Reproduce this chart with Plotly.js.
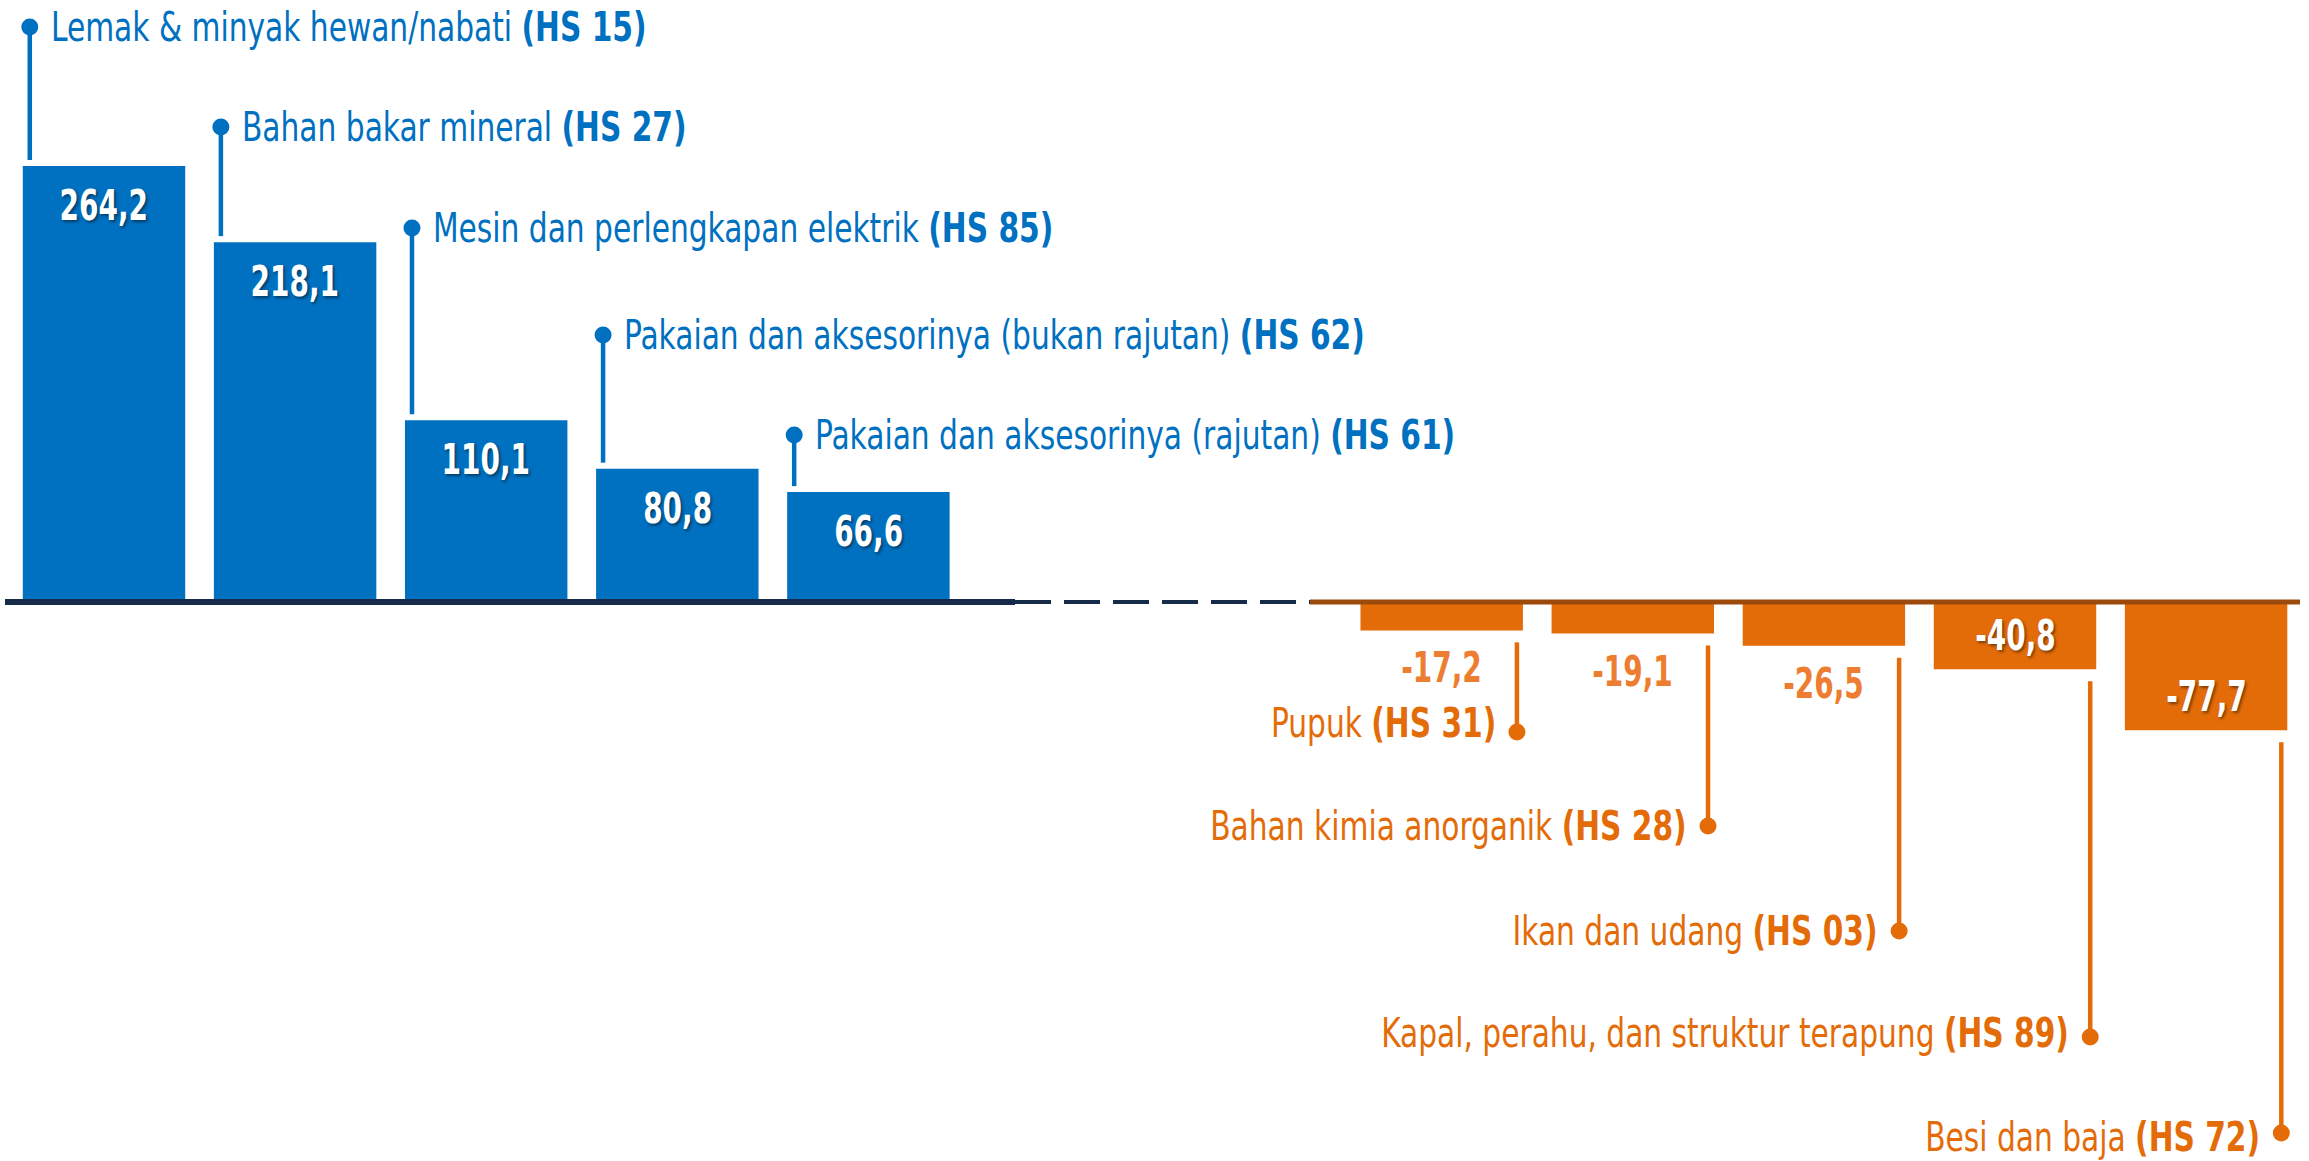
<!DOCTYPE html>
<html>
<head>
<meta charset="utf-8">
<script src="https://cdn.plot.ly/plotly-3.0.1.min.js"></script>
<style>
  html, body { margin: 0; padding: 0; background: #fff; }
  #chart { width: 2309px; height: 1161px; }
</style>
</head>
<body>
<div id="chart"></div>
<script>
// data
const blueNames = ['Lemak & minyak hewan/nabati', 'Bahan bakar mineral', 'Mesin dan perlengkapan elektrik',
  'Pakaian dan aksesorinya (bukan rajutan)', 'Pakaian dan aksesorinya (rajutan)']
const blueCodes = ['HS 15', 'HS 27', 'HS 85', 'HS 62', 'HS 61']
const blueValues = [264.2, 218.1, 110.1, 80.8, 66.6]

const orangeNames = ['Pupuk', 'Bahan kimia anorganik', 'Ikan dan udang',
  'Kapal, perahu, dan struktur terapung', 'Besi dan baja']
const orangeCodes = ['HS 31', 'HS 28', 'HS 03', 'HS 89', 'HS 72']
const orangeValues = [-17.2, -19.1, -26.5, -40.8, -77.7]

const gapSlots = ['gap1', 'gap2']

// look
const colorBlue = '#0070C0'
const colorOrange = '#E36C09'
const colorOrangeLight = '#ED7D31'
const colorBaseline = '#162B48'
const colorBrown = '#9C4A0C'
const fontFamily = '"Liberation Sans Narrow", "Arial Narrow", "DejaVu Sans Condensed", sans-serif'
const labelShadow = '2px 2px 3px rgba(0,0,0,0.45)'
// no narrow font installed, so labels get squeezed after drawing
const squeezeName = 0.825
const squeezeValue = 0.74

const W = 2309, H = 1161
const PITCH = 191.1, X0PX = 104
const ZEROPX = 602, PXPERUNIT = 1.65
const BARW = 0.85
const DOTR = 8.5

// callout heights (pixels from top)
const blueDotY = [27, 127, 228, 335, 435]
const orangeDotY = [732, 826, 931, 1037, 1133]
const orangeTextY = [723, 826, 931, 1033, 1137]

const dx = px => px / PITCH
const dy = px => px / PXPERUNIT
const yOfPx = py => (ZEROPX - py) / PXPERUNIT
const fmt = v => v.toFixed(1).replace('.', ',')

const categories = [...blueNames, ...gapSlots, ...orangeNames]
const orangeStart = blueNames.length + gapSlots.length

const data = [
  {
    x: blueNames, y: blueValues, type: 'bar', width: BARW,
    marker: {color: colorBlue}, hoverinfo: 'skip', showlegend: false
  },
  {
    x: orangeNames, y: orangeValues, type: 'bar', width: BARW,
    marker: {color: colorOrange}, hoverinfo: 'skip', showlegend: false
  }
]

const shapes = []
const annotations = []
const squeeze = []   // [factor, origin] per annotation

const dot = (x, yv, color) => ({
  type: 'circle', xref: 'x', yref: 'y',
  xsizemode: 'pixel', ysizemode: 'pixel', xanchor: x, yanchor: yv,
  x0: -DOTR, x1: DOTR, y0: -DOTR, y1: DOTR,
  fillcolor: color, line: {width: 0}
})

blueValues.forEach((v, i) => {
  const lx = i - BARW / 2 + dx(7)
  const dotV = yOfPx(blueDotY[i])
  shapes.push({type: 'line', xref: 'x', yref: 'y', x0: lx, x1: lx, y0: v + dy(6), y1: dotV,
    line: {color: colorBlue, width: 4.5}})
  shapes.push(dot(lx, dotV, colorBlue))
  annotations.push({
    x: lx, y: dotV, xref: 'x', yref: 'y', xanchor: 'left', yanchor: 'middle', xshift: 19, align: 'left',
    text: blueNames[i] + ' <b>(' + blueCodes[i] + ')</b>', showarrow: false,
    font: {family: fontFamily, size: 40, color: colorBlue}
  })
  squeeze.push([squeezeName, 'left center'])
  annotations.push({
    x: i, y: v, xref: 'x', yref: 'y', yanchor: 'top', yshift: -13,
    text: '<b>' + fmt(v) + '</b>', showarrow: false,
    font: {family: fontFamily, size: 42, color: '#ffffff', shadow: labelShadow}
  })
  squeeze.push([squeezeValue, 'center'])
})

orangeValues.forEach((v, i) => {
  const k = orangeStart + i
  const lx = k + BARW / 2 - dx(6)
  const dotV = yOfPx(orangeDotY[i])
  shapes.push({type: 'line', xref: 'x', yref: 'y', x0: lx, x1: lx, y0: v - dy(12), y1: dotV,
    line: {color: colorOrange, width: 4.5}})
  shapes.push(dot(lx, dotV, colorOrange))
  annotations.push({
    x: lx, y: yOfPx(orangeTextY[i]), xref: 'x', yref: 'y', xanchor: 'right', yanchor: 'middle', xshift: -19, align: 'right',
    text: orangeNames[i] + ' <b>(' + orangeCodes[i] + ')</b>', showarrow: false,
    font: {family: fontFamily, size: 40, color: colorOrange}
  })
  squeeze.push([squeezeName, 'right center'])
  const inside = Math.abs(v) * PXPERUNIT > 60
  annotations.push({
    x: k, y: v, xref: 'x', yref: 'y',
    yanchor: inside ? 'bottom' : 'top', yshift: inside ? 7 : -11,
    text: '<b>' + fmt(v) + '</b>', showarrow: false,
    font: inside
      ? {family: fontFamily, size: 42, color: '#ffffff', shadow: labelShadow}
      : {family: fontFamily, size: 42, color: colorOrangeLight}
  })
  squeeze.push([squeezeValue, 'center'])
})

// zero line: solid under positives, dashed gap, brown under negatives
shapes.push({type: 'line', xref: 'paper', yref: 'y', x0: 5 / W, x1: 1015 / W, y0: 0, y1: 0,
  line: {color: colorBaseline, width: 6}})
shapes.push({type: 'line', xref: 'paper', yref: 'y', x0: 1015 / W, x1: 1310 / W, y0: 0, y1: 0,
  line: {color: colorBaseline, width: 4, dash: '36px,13px'}})
shapes.push({type: 'line', xref: 'paper', yref: 'y', x0: 1310 / W, x1: 2300 / W, y0: 0, y1: 0,
  line: {color: colorBrown, width: 5}})

const layout = {
  width: W, height: H,
  margin: {l: 0, r: 0, t: 0, b: 0},
  paper_bgcolor: '#ffffff',
  plot_bgcolor: '#ffffff',
  xaxis: {
    type: 'category', categoryorder: 'array', categoryarray: categories,
    range: [-X0PX / PITCH, (W - X0PX) / PITCH],
    showticklabels: false, showgrid: false, zeroline: false, showline: false, ticks: ''
  },
  yaxis: {
    range: [-(H - ZEROPX) / PXPERUNIT, ZEROPX / PXPERUNIT],
    showticklabels: false, showgrid: false, zeroline: false, showline: false, ticks: ''
  },
  shapes: shapes,
  annotations: annotations,
  showlegend: false
}

Plotly.newPlot('chart', data, layout, {displayModeBar: false, staticPlot: true}).then(gd => {
  gd.querySelectorAll('g.annotation').forEach(g => {
    const s = squeeze[+g.getAttribute('data-index')]
    const t = g.querySelector('text.annotation-text')
    if (!s || !t) return
    t.style.transformBox = 'fill-box'
    t.style.transformOrigin = s[1]
    t.style.transform = 'scaleX(' + s[0] + ')'
  })
})
</script>
</body>
</html>
